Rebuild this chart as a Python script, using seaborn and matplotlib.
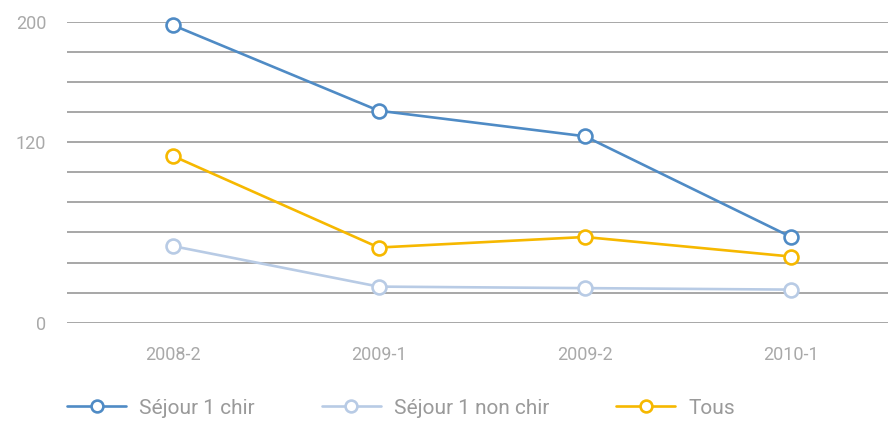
import matplotlib
matplotlib.use("Agg")
import matplotlib.pyplot as plt
import seaborn as sns
import pandas as pd

periods = ["2008-2", "2009-1", "2009-2", "2010-1"]
sejour_chir = [198, 141, 124, 57]
sejour_non_chir = [51, 24, 23, 22]
tous = [111, 50, 57, 44]

series_names = ["Séjour 1 chir", "Séjour 1 non chir", "Tous"]
series_values = [sejour_chir, sejour_non_chir, tous]
series_colors = ["#4f8bc5", "#b8cbe5", "#f6b800"]

y_ticks_labelled = [0, 120, 200]
y_grid = list(range(0, 201, 20))

sns.set_theme(style="white")
plt.rcParams["font.family"] = ["Roboto", "DejaVu Sans"]

fig = plt.figure(figsize=(8.88, 4.25), dpi=100)
ax = fig.add_axes([67 / 888, (425 - 322.7) / 425, (888 - 67) / 888, (322.7 - 22) / 425])

for y in y_grid:
    ax.axhline(y, color="#a0a0a0", linewidth=1.3, zorder=1)

rows = []
for name, vals in zip(series_names, series_values):
    for p, v in zip(periods, vals):
        rows.append({"period": p, "value": v, "series": name})
df = pd.DataFrame(rows)

for name, color in zip(series_names, series_colors):
    sub = df[df["series"] == name]
    sns.lineplot(data=sub, x="period", y="value", ax=ax, color=color,
                 linewidth=1.9, marker="o", markersize=10,
                 markerfacecolor="white", markeredgecolor=color,
                 markeredgewidth=1.9, clip_on=False, zorder=3,
                 label=name, legend=False)

ax.set_xlim(-0.512, 3.47)
ax.set_ylim(0, 200)
ax.set_yticks(y_ticks_labelled)
ax.set_yticklabels([str(v) for v in y_ticks_labelled])
ax.set_xlabel("")
ax.set_ylabel("")
for s in ax.spines.values():
    s.set_visible(False)
ax.tick_params(axis="both", length=0, labelsize=13, labelcolor="#a9a9a9")
ax.tick_params(axis="x", pad=17)
ax.tick_params(axis="y", pad=15)

handles, labels = ax.get_legend_handles_labels()
leg = fig.legend(handles, labels, loc="center left", bbox_to_anchor=(67 / 888, 1 - 408 / 425),
                 ncol=3, frameon=False, fontsize=15, handlelength=2.85,
                 handletextpad=0.62, columnspacing=3.2, borderaxespad=0, borderpad=0)
for h in leg.legend_handles:
    h.set_markersize(8.5)
for t in leg.get_texts():
    t.set_color("#9a9a9a")

fig.savefig("out.png", dpi=100)
